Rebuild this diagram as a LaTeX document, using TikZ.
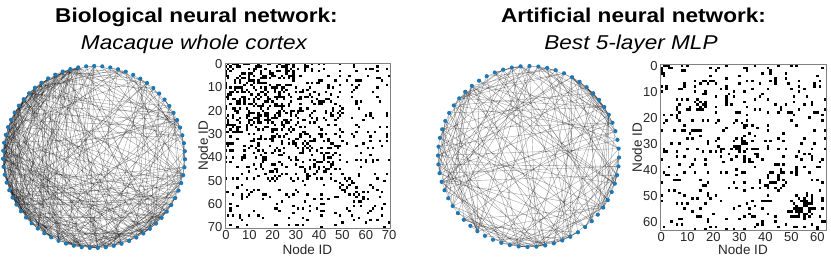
\documentclass[tikz,border=0pt]{standalone}
\usepackage{fontspec}
\setmainfont{Liberation Sans}
\newfontfamily\titlefont[FakeStretch=1.13]{Liberation Sans}
\usetikzlibrary{calc}
\definecolor{dotblue}{RGB}{31,119,180}
\definecolor{framegray}{RGB}{130,130,130}
\definecolor{ink}{RGB}{38,38,38}
\tikzset{
  chord/.style={draw=black,line width=0.4pt,opacity=0.36},
  vertex/.style={fill=dotblue},
  cell/.style={fill=black},
  mframe/.style={draw=framegray,line width=0.6pt},
  title/.style={font=\titlefont\fontsize{20}{24}\selectfont\bfseries,anchor=base},
  subtitle/.style={font=\titlefont\fontsize{20}{24}\selectfont\itshape,anchor=base},
  tick/.style={font=\fontsize{13}{15}\selectfont,text=ink,inner sep=1pt},
  axislabel/.style={font=\fontsize{13.5}{15}\selectfont,text=ink,inner sep=0pt},
}
\begin{document}
\begin{tikzpicture}[x=1pt,y=-1pt]
  \useasboundingbox (0,0) rectangle (831,262);
  \pgfmathsetseed{4242}

  % titles
  \node[title] (biotitle) at (196.5,22.5) {Biological neural network:};
  \node[subtitle] (biosub) at (194,49.3) {Macaque whole cortex};
  \node[title] (mlptitle) at (633.5,22.5) {Artificial neural network:};
  \node[subtitle] (mlpsub) at (631,49.3) {Best 5-layer MLP};

  % biological network: 71 areas
  \coordinate (bioc) at (94,157);
  \foreach \k in {0,...,70}
    \coordinate (bio\k) at ($(bioc)+({-(100+\k*(360/71))}:91)$);
  \foreach \i [count=\n from 1] in {0,...,69}
    \foreach \j in {\n,...,70} {
      \pgfmathtruncatemacro\hit{rnd<0.07+0.17*(\j<30)+0.1*(\j<50)+0.12*(abs(\i-\j)<6)+0.1*(\i>32)*(\j<46)}
      \ifnum\hit=1
        \draw[chord] (bio\i) -- (bio\j);
        \fill[cell] (224.8+\j*2.33,63+\i*2.33) rectangle ++(2.33,2.33);
        \fill[cell] (224.8+\i*2.33,63+\j*2.33) rectangle ++(2.33,2.33);
      \fi
    }
  \foreach \k in {0,...,70}
    \fill[vertex] (bio\k) circle (2.1);
  \draw[mframe] (224.8,63) rectangle ++(165.4,165.4);
  \foreach \v in {0,10,...,70} {
    \node[tick,anchor=east] at (223.5,63+\v*2.33+1.17) {\v};
    \node[tick,anchor=north] at (224.8+\v*2.33+1.17,229) {\v};
  }
  \node[axislabel,rotate=90] (bioy) at (203,145.7) {Node ID};
  \node[axislabel] (biox) at (307.5,250) {Node ID};

  % MLP: 64 nodes
  \coordinate (mlpc) at (528.5,156.5);
  \foreach \k in {0,...,63}
    \coordinate (mlp\k) at ($(mlpc)+({-(95+\k*(360/64))}:90.5)$);
  \foreach \i [count=\n from 1] in {0,...,62}
    \foreach \j in {\n,...,63} {
      \pgfmathtruncatemacro\hit{rnd<0.09+0.45*(\i>49)*(\j<59)+0.5*(\i>27)*(\j<34)+0.3*(\j<6)+0.2*(\i>12)*(\j<19)+0.12*(abs(\i-\j)<3)}
      \ifnum\hit=1
        \draw[chord] (mlp\i) -- (mlp\j);
        \fill[cell] (660+\j*2.6,64.3+\i*2.6) rectangle ++(2.6,2.6);
        \fill[cell] (660+\i*2.6,64.3+\j*2.6) rectangle ++(2.6,2.6);
      \fi
    }
  \foreach \k in {0,...,63}
    \fill[vertex] (mlp\k) circle (2.1);
  \draw[mframe] (660,64.3) rectangle ++(166.4,166.4);
  \foreach \v in {0,10,...,60} {
    \node[tick,anchor=east] at (658.7,64.3+\v*2.6+1.3) {\v};
    \node[tick,anchor=north] at (660+\v*2.6+1.3,231.5) {\v};
  }
  \node[axislabel,rotate=90] (mlpy) at (637,147.5) {Node ID};
  \node[axislabel] (mlpx) at (743,250) {Node ID};
\end{tikzpicture}
\end{document}
